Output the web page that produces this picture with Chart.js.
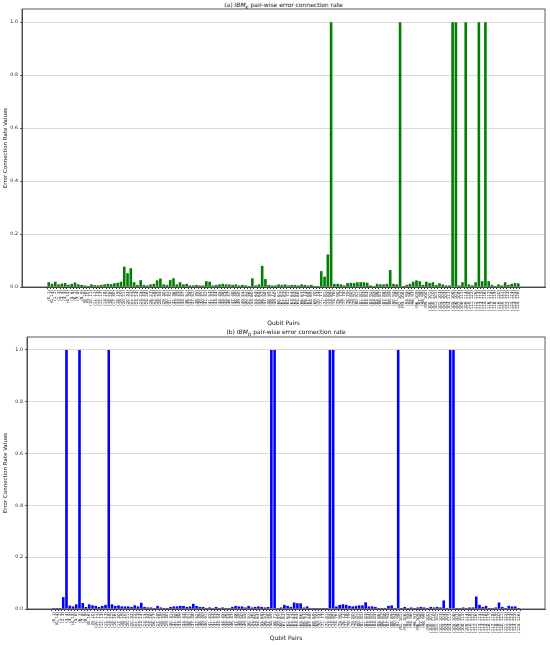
<!DOCTYPE html>
<html>
<head>
<meta charset="utf-8">
<script src="https://cdn.jsdelivr.net/npm/chart.js@4.4.1/dist/chart.umd.min.js"></script>
<style>
  body { margin: 0; background: #fff; }
  #wrap { position: relative; width: 550px; height: 645px; font-family: 'DejaVu Sans', sans-serif; }
  canvas { position: absolute; left: 0; }
  .title { position: absolute; font-size: 6px; color: #111; text-align: center; white-space: nowrap; }
  .title sub { font-size: 4.5px; }
</style>
</head>
<body>
<div id="wrap">
  <div class="title" style="left:22px; width:523px; top:1px;">(a) <i>IBM<sub>K</sub></i> pair-wise error connection rate</div>
  <canvas id="chartK" width="550" height="330" style="top:0;"></canvas>
  <div class="title" style="left:27px; width:518px; top:328px;">(b) <i>IBM<sub>O</sub></i> pair-wise error connection rate</div>
  <canvas id="chartO" width="550" height="315" style="top:330px;"></canvas>
</div>
<script>
// ---------- Data ----------
// qubit pairs (heavy-hex coupling map), sorted
const qubitPairs = [
  [0,1],[0,14],[1,2],[2,3],[3,4],[4,5],[4,15],[5,6],[6,7],[7,8],[8,9],[8,16],[9,10],[10,11],[11,12],
  [12,13],[12,17],[14,18],[15,22],[16,26],[17,30],[18,19],[19,20],[20,21],[20,33],[21,22],[22,23],
  [23,24],[24,25],[24,34],[25,26],[26,27],[27,28],[28,29],[28,35],[29,30],[30,31],[31,32],[32,36],
  [33,39],[34,43],[35,47],[36,51],[37,38],[37,52],[38,39],[39,40],[40,41],[41,42],[41,53],[42,43],
  [43,44],[44,45],[45,46],[45,54],[46,47],[47,48],[48,49],[49,50],[49,55],[50,51],[52,56],[53,60],
  [54,64],[55,68],[56,57],[57,58],[58,59],[58,71],[59,60],[60,61],[61,62],[62,63],[62,72],[63,64],
  [64,65],[65,66],[66,67],[66,73],[67,68],[68,69],[69,70],[70,74],[71,77],[72,81],[73,85],[74,89],
  [75,76],[75,90],[76,77],[77,78],[78,79],[79,80],[79,91],[80,81],[81,82],[82,83],[83,84],[83,92],
  [84,85],[85,86],[86,87],[87,88],[87,93],[88,89],[90,94],[91,98],[92,102],[93,106],[94,95],[95,96],
  [96,97],[96,109],[97,98],[98,99],[99,100],[100,101],[100,110],[101,102],[102,103],[103,104],
  [104,105],[104,111],[105,106],[106,107],[107,108],[108,112],[109,114],[110,118],[111,122],
  [112,126],[113,114],[114,115],[115,116],[116,117],[117,118],[118,119],[119,120],[120,121],
  [121,122],[122,123],[123,124],[124,125],[125,126]
];
const pairLabels = qubitPairs.map(p => '(' + p[0] + ', ' + p[1] + ')');

const ratesK = [
  0.018,0.012,0.020,0.010,0.013,0.015,0.008,0.012,0.017,0.010,0.008,0.006,0.004,0.010,0.007,0.006,
  0.008,0.010,0.012,0.011,0.014,0.016,0.020,0.077,0.052,0.071,0.018,0.008,0.026,0.008,0.006,0.010,
  0.012,0.025,0.032,0.010,0.008,0.026,0.033,0.010,0.018,0.010,0.012,0.006,0.006,0.008,0.006,0.006,
  0.022,0.020,0.006,0.008,0.010,0.012,0.010,0.010,0.008,0.010,0.006,0.008,0.006,0.004,0.033,0.006,
  0.010,0.080,0.030,0.008,0.006,0.006,0.010,0.008,0.010,0.006,0.008,0.008,0.006,0.010,0.008,0.006,
  0.008,0.004,0.004,0.060,0.039,0.123,1.000,0.012,0.012,0.010,0.006,0.015,0.016,0.015,0.018,0.018,
  0.018,0.016,0.006,0.004,0.012,0.010,0.010,0.012,0.064,0.012,0.010,1.000,0.004,0.008,0.012,0.020,
  0.025,0.022,0.008,0.020,0.015,0.018,0.008,0.014,0.010,0.006,0.006,1.000,1.000,0.006,0.018,1.000,
  0.010,0.006,0.018,1.000,0.022,1.000,0.022,0.008,0.004,0.010,0.006,0.018,0.008,0.012,0.015,0.014
];

const ratesO = [
  0.004,0.004,0.004,0.046,1.000,0.013,0.010,0.018,1.000,0.023,0.008,0.018,0.014,0.012,0.008,0.012,
  0.016,1.000,0.018,0.012,0.014,0.010,0.010,0.010,0.008,0.014,0.010,0.024,0.008,0.006,0.006,0.004,
  0.012,0.006,0.004,0.004,0.008,0.010,0.010,0.012,0.012,0.008,0.010,0.020,0.012,0.008,0.008,0.004,
  0.006,0.004,0.008,0.004,0.006,0.004,0.004,0.008,0.012,0.010,0.010,0.006,0.012,0.006,0.008,0.010,
  0.008,0.006,0.008,1.000,1.000,0.004,0.006,0.016,0.012,0.008,0.025,0.022,0.022,0.006,0.010,0.004,
  0.004,0.004,0.004,0.004,0.004,1.000,1.000,0.010,0.016,0.018,0.016,0.012,0.010,0.012,0.014,0.014,
  0.026,0.010,0.010,0.008,0.004,0.004,0.004,0.012,0.014,0.004,1.000,0.004,0.008,0.004,0.006,0.004,
  0.006,0.008,0.006,0.004,0.008,0.006,0.008,0.006,0.033,0.004,1.000,1.000,0.004,0.004,0.006,0.004,
  0.006,0.006,0.048,0.016,0.008,0.012,0.004,0.004,0.006,0.025,0.008,0.004,0.012,0.010,0.010,0.004
];

const yTicks = [0, 0.2, 0.4, 0.6, 0.8, 1.0];

// ---------- Helpers ----------
const FONT = 'DejaVu Sans';

const frameBox = {
  id: 'frameBox',
  afterDraw(chart) {
    const { ctx, chartArea: a } = chart;
    ctx.save();
    ctx.strokeStyle = '#333';
    ctx.lineWidth = 0.8;
    ctx.strokeRect(a.left, a.top, a.right - a.left, a.bottom - a.top);
    ctx.restore();
  }
};

function makeChart(id, values, color, yWidth, xHeight, padTop) {
  const n = values.length;
  const span = n - 0.2;
  return new Chart(document.getElementById(id), {
    type: 'bar',
    data: {
      datasets: [{
        data: values.map((v, i) => ({ x: i, y: v })),
        backgroundColor: color,
        borderWidth: 0,
        barPercentage: 0.8,
        categoryPercentage: 1.0,
      }],
    },
    options: {
      responsive: false,
      animation: false,
      devicePixelRatio: 1,
      layout: { padding: { top: padTop, right: 5, left: 0, bottom: 0 } },
      plugins: { legend: { display: false }, tooltip: { enabled: false } },
      scales: {
        x: {
          type: 'linear',
          min: -0.4 - 0.05 * span,
          max: n - 0.6 + 0.05 * span,
          afterBuildTicks: s => { s.ticks = pairLabels.map((_, i) => ({ value: i })); },
          afterFit: s => { s.height = xHeight; },
          ticks: {
            autoSkip: false,
            minRotation: 90,
            maxRotation: 90,
            padding: 1,
            color: '#111',
            font: { family: FONT, size: 4 },
            callback: v => pairLabels[v],
          },
          grid: { drawOnChartArea: false, drawTicks: true, tickLength: 2, color: '#333' },
          border: { color: '#333', width: 0.8 },
          title: {
            display: true,
            text: 'Qubit Pairs',
            color: '#111',
            font: { family: FONT, size: 6 },
            padding: { top: 0, bottom: 3 },
          },
        },
        y: {
          min: 0,
          max: 1.05,
          afterBuildTicks: s => { s.ticks = yTicks.map(v => ({ value: v })); },
          afterFit: s => { s.width = yWidth; },
          ticks: {
            padding: 2,
            color: '#222',
            font: { family: FONT, size: 4.8 },
            callback: v => v.toFixed(1),
          },
          grid: { color: '#d0d0d0', lineWidth: 0.8, tickLength: 2, tickColor: '#333' },
          border: { color: '#333', width: 0.8 },
          title: {
            display: true,
            text: 'Error Connection Rate Values',
            color: '#111',
            font: { family: FONT, size: 5.5 },
            padding: { top: 2, bottom: 1 },
          },
        },
      },
    },
    plugins: [frameBox],
  });
}

makeChart('chartK', ratesK, '#008000', 22, 43, 9);
makeChart('chartO', ratesO, '#0000ff', 27, 36, 7);
</script>
</body>
</html>
